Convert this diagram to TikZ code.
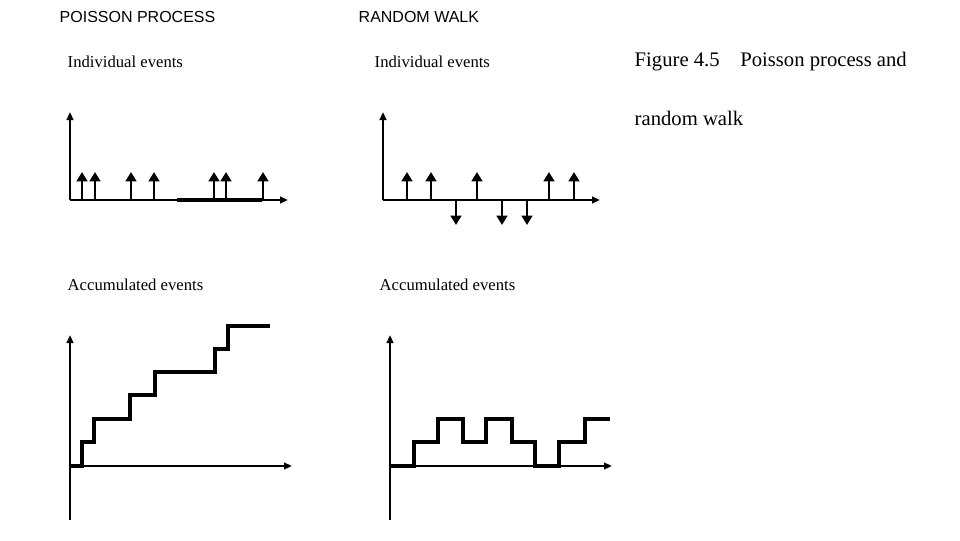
\documentclass[tikz,border=0pt]{standalone}
\usepackage{fontspec}
\setmainfont{Liberation Serif}
\newfontfamily\hdfont{Liberation Sans}
\usetikzlibrary{arrows.meta}
\begin{document}
\begin{tikzpicture}[x=0.75pt,y=-0.75pt,
  ax/.style={line width=1.5pt,-{Triangle[length=6pt,width=5pt]}},
  ev/.style={line width=2.2pt,-{Triangle[length=7pt,width=8pt]}},
  st/.style={line width=2.6pt},
  hd/.style={anchor=west,font=\hdfont\fontsize{12}{14}\selectfont},
  lb/.style={anchor=west,font=\fontsize{12.5}{15}\selectfont},
  capt/.style={anchor=west,font=\fontsize{15.5}{18}\selectfont}]
\useasboundingbox (0,0) rectangle (960,540);
\node[hd] (h1) at (55,17) {POISSON PROCESS};
\node[hd] (h2) at (354,17) {RANDOM WALK};
\node[lb] (l1) at (63,62) {Individual events};
\node[lb] (l2) at (370,62) {Individual events};
\node[lb] (l3) at (63,285) {Accumulated events};
\node[lb] (l4) at (375,285) {Accumulated events};
\node[capt] (c1) at (630,62) {Figure 4.5\quad Poisson process and};
\node[capt] (c2) at (630,118) {random walk};
% top-left
\draw[ax] (70,200) -- (70,112);
\draw[ax] (70,200) -- (288,200);
\draw[line width=2.6pt] (177,200) -- (262,200);
\foreach \x in {82,95,131,154,214,226,263} \draw[ev] (\x,200) -- (\x,172);
% top-right
\draw[ax] (383,200) -- (383,112);
\draw[ax] (383,200) -- (600,200);
\foreach \x in {407,431,477,549,574} \draw[ev] (\x,200) -- (\x,172);
\foreach \x in {456,502,527} \draw[ev] (\x,200) -- (\x,225);
% bottom-left
\draw[ax] (70,520) -- (70,335);
\draw[ax] (70,466) -- (292,466);
\draw[st] (70,466) -- (82,466) |- (94,442) |- (130,419) |- (155,395) |- (215,372) |- (228,349) |- (270,326);
% bottom-right
\draw[ax] (390,520) -- (390,335);
\draw[ax] (390,466) -- (612,466);
\draw[st] (390,466) -- (414,466) |- (438,442) |- (463,419) |- (486,442) |- (512,419) |- (535,442) |- (559,466) |- (585,442) |- (610,419);
\end{tikzpicture}
\end{document}
